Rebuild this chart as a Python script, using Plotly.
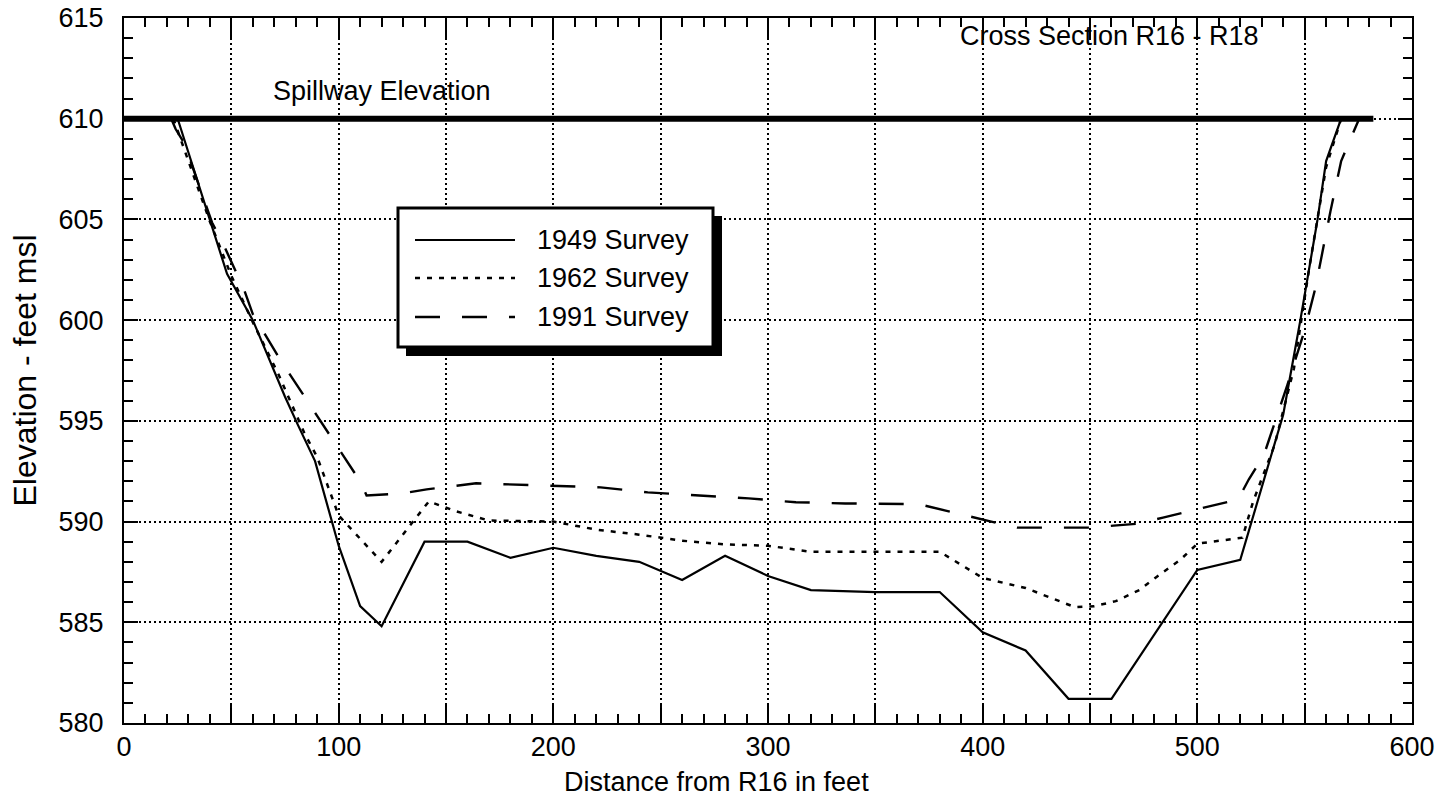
import plotly.graph_objects as go

# ---- data ----
spill_x = [0, 582]
spill_y = [610, 610]

x1949 = [25, 40, 48, 60, 75, 81, 89, 100, 110, 120, 140, 160, 180, 200, 220, 240, 260, 280,
         300, 320, 350, 380, 400, 420, 440, 460, 480, 500, 520, 540, 548, 556, 560, 567]
y1949 = [610, 605, 602.3, 600, 596.2, 594.8, 593, 588.8, 585.8, 584.8, 589, 589, 588.2, 588.7,
         588.3, 588.0, 587.1, 588.3, 587.3, 586.6, 586.5, 586.5, 584.5, 583.6, 581.2, 581.2,
         584.4, 587.6, 588.1, 595.3, 600, 605, 607.9, 610]

x1962 = [23, 40, 50, 60, 72, 84, 90, 100, 120, 142, 155, 170, 200, 220, 240, 260, 280, 300,
         320, 380, 400, 420, 443, 452, 462, 473, 481, 492, 500, 521, 526, 536, 545, 552, 560, 567]
y1962 = [610, 604.9, 602.2, 599.9, 597.3, 594.4, 593.2, 590.3, 588.0, 591.0, 590.5, 590.05,
         590.0, 589.6, 589.35, 589.05, 588.87, 588.8, 588.5, 588.5, 587.2, 586.7, 585.75, 585.8,
         586.05, 586.6, 587.25, 588.1, 588.9, 589.2, 591.0, 593.8, 597.6, 602.5, 607.6, 610]

x1991 = [22, 24, 28, 41, 47, 56, 60, 73, 110, 113, 130, 141, 164, 198, 222, 244, 267, 291, 313,
         336, 370, 381, 404, 416, 451, 461, 473, 484, 496, 519, 524, 531, 542, 550, 555, 562,
         567, 575]
y1991 = [610, 609.5, 608.8, 604.85, 603.6, 601.5, 600.3, 598.0, 592.0, 591.3, 591.4, 591.6,
         591.9, 591.8, 591.7, 591.45, 591.3, 591.15, 590.96, 590.9, 590.87, 590.6, 590.0, 589.7,
         589.7, 589.8, 589.9, 590.2, 590.5, 591.1, 592.1, 593.3, 596.8, 599.5, 601.6, 605.4,
         607.9, 609.9]

names = ["1949 Survey", "1962 Survey", "1991 Survey"]

x_tickvals = [0, 50, 100, 150, 200, 250, 300, 350, 400, 450, 500, 550, 600]
x_ticktext = ["0", "", "100", "", "200", "", "300", "", "400", "", "500", "", "600"]
y_tickvals = [580, 585, 590, 595, 600, 605, 610, 615]
y_ticktext = ["580", "585", "590", "595", "600", "605", "610", "615"]

FONT = "Liberation Sans, Arial, Helvetica, sans-serif"
STYLES = [dict(color="black", width=2.2),
          dict(color="black", width=2.5, dash="5px,7px"),
          dict(color="black", width=2.4, dash="25px,22px")]

fig = go.Figure()
fig.add_trace(go.Scatter(x=spill_x, y=spill_y, mode="lines", showlegend=False,
                         line=dict(color="black", width=6)))
for xs, ys, nm, st in zip([x1949, x1962, x1991], [y1949, y1962, y1991], names, STYLES):
    fig.add_trace(go.Scatter(x=xs, y=ys, mode="lines", name=nm, line=st, showlegend=False))

W, H = 1454, 803
L, R, T, B = 124, 42, 18, 80
pw, ph = W - L - R, H - T - B


def px_x(p):
    # page pixel x -> paper fraction
    return (p - L) / pw


def px_y(p):
    # page pixel y -> paper fraction
    return (H - B - p) / ph


# legend box drawn as decoration (pixel layout of the reference)
shapes = [
    dict(type="rect", xref="paper", yref="paper", layer="above",
         x0=px_x(406), x1=px_x(722), y0=px_y(356), y1=px_y(216),
         fillcolor="black", line=dict(width=0)),
    dict(type="rect", xref="paper", yref="paper", layer="above",
         x0=px_x(398), x1=px_x(713), y0=px_y(347), y1=px_y(208),
         fillcolor="white", line=dict(color="black", width=3)),
]
annotations = []
row_y = [240, 278, 317]
for nm, st, ry in zip(names, STYLES, row_y):
    shapes.append(dict(type="line", xref="paper", yref="paper", layer="above",
                       x0=px_x(415), x1=px_x(515), y0=px_y(ry), y1=px_y(ry), line=st))
    annotations.append(dict(text=nm, xref="paper", yref="paper", x=px_x(535), y=px_y(ry),
                            xanchor="left", yanchor="middle", showarrow=False,
                            font=dict(size=27)))

annotations += [
    dict(text="Spillway Elevation", xref="x", yref="y", x=120, y=611.4,
         xanchor="center", yanchor="middle", showarrow=False, font=dict(size=27)),
    dict(text="Cross Section R16 - R18", xref="x", yref="y", x=459, y=614.1,
         xanchor="center", yanchor="middle", showarrow=False, font=dict(size=27)),
    dict(text="Distance from R16 in feet", xref="paper", yref="paper",
         x=px_x(716), y=px_y(782), xanchor="center", yanchor="middle",
         showarrow=False, font=dict(size=27)),
]

fig.update_layout(
    width=W, height=H,
    margin=dict(l=L, r=R, t=T, b=B),
    paper_bgcolor="white", plot_bgcolor="white",
    font=dict(family=FONT, size=27, color="black"),
    showlegend=False,
    xaxis=dict(range=[0, 600], tickvals=x_tickvals, ticktext=x_ticktext, automargin=False,
               showline=True, linecolor="black", linewidth=2, mirror="allticks",
               ticks="inside", ticklen=20, tickwidth=2, tickcolor="black",
               showgrid=True, gridcolor="black", gridwidth=1.5, griddash="2px,3px",
               zeroline=False, ticklabelstandoff=-1, ticklabeloverflow="allow",
               minor=dict(dtick=10, ticks="inside", ticklen=9, tickwidth=1.5,
                          tickcolor="black", showgrid=False)),
    yaxis=dict(range=[580, 615], tickvals=y_tickvals, ticktext=y_ticktext, automargin=False,
               showline=True, linecolor="black", linewidth=2, mirror="allticks",
               ticks="inside", ticklen=14, tickwidth=2, tickcolor="black",
               showgrid=True, gridcolor="black", gridwidth=1.5, griddash="2px,3px",
               zeroline=False, ticklabelstandoff=13, ticklabeloverflow="allow",
               title=dict(text="Elevation - feet msl", standoff=12),
               minor=dict(dtick=1, ticks="inside", ticklen=9, tickwidth=1.5,
                          tickcolor="black", showgrid=False)),
    shapes=shapes,
    annotations=annotations,
)

fig.write_html("out.html", config={"displayModeBar": False},
               post_script="document.body.style.margin='0';document.body.style.overflow='hidden';")
